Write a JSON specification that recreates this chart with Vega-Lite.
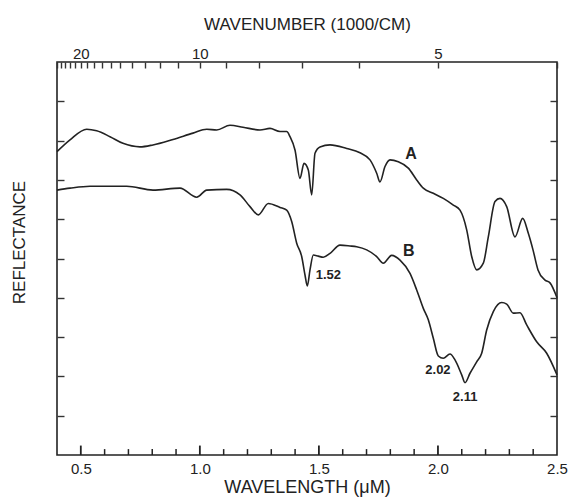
{
  "$schema": "https://vega.github.io/schema/vega-lite/v6.json",
  "width": 500,
  "height": 393,
  "autosize": "none",
  "padding": {"left": 57, "top": 62, "right": 14, "bottom": 48},
  "background": "white",
  "config": {
    "view": {"stroke": "#222", "strokeWidth": 1.6},
    "axis": {
      "labelFont": "Liberation Sans",
      "titleFont": "Liberation Sans",
      "labelColor": "#222",
      "titleColor": "#222",
      "tickColor": "#333",
      "tickWidth": 1.4,
      "domain": false,
      "grid": false,
      "titleFontWeight": "normal",
      "labelFlush": false,
      "labelOverlap": false,
      "labelBound": false
    }
  },
  "resolve": {"axis": {"x": "independent", "y": "independent"}},
  "layer": [
    {
      "data": {"values": [
        {"s":"A","wl":0.4,"r":7.72},{"s":"A","wl":0.4546,"r":8.02},{"s":"A","wl":0.5247,"r":8.29},{"s":"A","wl":0.5667,"r":8.25},{"s":"A","wl":0.6226,"r":8.10},{"s":"A","wl":0.677,"r":7.93},{"s":"A","wl":0.7486,"r":7.84},{"s":"A","wl":0.8032,"r":7.89},{"s":"A","wl":0.8872,"r":8.03},{"s":"A","wl":0.9712,"r":8.19},{"s":"A","wl":1.0287,"r":8.29},{"s":"A","wl":1.0707,"r":8.27},{"s":"A","wl":1.1266,"r":8.39},{"s":"A","wl":1.1812,"r":8.34},{"s":"A","wl":1.2526,"r":8.27},{"s":"A","wl":1.2946,"r":8.31},{"s":"A","wl":1.3366,"r":8.23},{"s":"A","wl":1.3647,"r":8.23},{"s":"A","wl":1.3786,"r":8.10},{"s":"A","wl":1.3996,"r":7.76},{"s":"A","wl":1.4206,"r":7.04},{"s":"A","wl":1.4374,"r":7.42},{"s":"A","wl":1.4555,"r":7.25},{"s":"A","wl":1.4697,"r":6.62},{"s":"A","wl":1.4836,"r":7.68},{"s":"A","wl":1.5046,"r":7.84},{"s":"A","wl":1.5466,"r":7.89},{"s":"A","wl":1.6167,"r":7.80},{"s":"A","wl":1.6726,"r":7.69},{"s":"A","wl":1.7146,"r":7.51},{"s":"A","wl":1.7427,"r":7.17},{"s":"A","wl":1.7566,"r":6.95},{"s":"A","wl":1.7776,"r":7.34},{"s":"A","wl":1.7986,"r":7.51},{"s":"A","wl":1.8335,"r":7.46},{"s":"A","wl":1.8755,"r":7.30},{"s":"A","wl":1.9107,"r":7.00},{"s":"A","wl":1.9385,"r":6.79},{"s":"A","wl":1.9805,"r":6.66},{"s":"A","wl":2.0225,"r":6.53},{"s":"A","wl":2.0645,"r":6.36},{"s":"A","wl":2.0926,"r":6.23},{"s":"A","wl":2.1207,"r":5.73},{"s":"A","wl":2.1417,"r":5.05},{"s":"A","wl":2.1627,"r":4.71},{"s":"A","wl":2.1905,"r":4.88},{"s":"A","wl":2.2115,"r":5.55},{"s":"A","wl":2.2396,"r":6.45},{"s":"A","wl":2.2606,"r":6.53},{"s":"A","wl":2.2887,"r":6.32},{"s":"A","wl":2.3236,"r":5.55},{"s":"A","wl":2.3559,"r":6.02},{"s":"A","wl":2.3795,"r":5.64},{"s":"A","wl":2.3992,"r":5.22},{"s":"A","wl":2.4202,"r":4.71},{"s":"A","wl":2.4496,"r":4.45},{"s":"A","wl":2.4706,"r":4.38},{"s":"A","wl":2.5,"r":4.0},
        {"s":"B","wl":0.4,"r":6.74},{"s":"B","wl":0.4546,"r":6.79},{"s":"B","wl":0.5386,"r":6.84},{"s":"B","wl":0.6927,"r":6.84},{"s":"B","wl":0.8032,"r":6.74},{"s":"B","wl":0.9166,"r":6.79},{"s":"B","wl":0.9867,"r":6.56},{"s":"B","wl":1.0287,"r":6.74},{"s":"B","wl":1.1127,"r":6.76},{"s":"B","wl":1.1686,"r":6.62},{"s":"B","wl":1.2106,"r":6.32},{"s":"B","wl":1.2455,"r":6.11},{"s":"B","wl":1.2875,"r":6.40},{"s":"B","wl":1.3366,"r":6.30},{"s":"B","wl":1.3647,"r":6.23},{"s":"B","wl":1.3857,"r":5.94},{"s":"B","wl":1.4067,"r":5.39},{"s":"B","wl":1.4277,"r":5.05},{"s":"B","wl":1.4416,"r":4.58},{"s":"B","wl":1.4513,"r":4.30},{"s":"B","wl":1.4626,"r":4.71},{"s":"B","wl":1.4765,"r":5.09},{"s":"B","wl":1.4975,"r":5.06},{"s":"B","wl":1.5185,"r":5.03},{"s":"B","wl":1.5466,"r":5.13},{"s":"B","wl":1.5886,"r":5.34},{"s":"B","wl":1.6306,"r":5.32},{"s":"B","wl":1.6587,"r":5.30},{"s":"B","wl":1.7007,"r":5.22},{"s":"B","wl":1.7427,"r":5.05},{"s":"B","wl":1.7705,"r":4.88},{"s":"B","wl":1.8057,"r":5.08},{"s":"B","wl":1.8406,"r":4.96},{"s":"B","wl":1.8826,"r":4.62},{"s":"B","wl":1.9107,"r":4.20},{"s":"B","wl":1.9385,"r":3.73},{"s":"B","wl":1.9595,"r":3.44},{"s":"B","wl":1.9805,"r":2.97},{"s":"B","wl":2.0015,"r":2.52},{"s":"B","wl":2.0225,"r":2.46},{"s":"B","wl":2.0506,"r":2.57},{"s":"B","wl":2.0716,"r":2.42},{"s":"B","wl":2.0997,"r":2.04},{"s":"B","wl":2.1136,"r":1.84},{"s":"B","wl":2.1346,"r":2.08},{"s":"B","wl":2.1627,"r":2.37},{"s":"B","wl":2.1837,"r":2.59},{"s":"B","wl":2.2047,"r":3.18},{"s":"B","wl":2.2325,"r":3.65},{"s":"B","wl":2.2677,"r":3.88},{"s":"B","wl":2.2887,"r":3.84},{"s":"B","wl":2.3165,"r":3.61},{"s":"B","wl":2.3446,"r":3.62},{"s":"B","wl":2.3727,"r":3.31},{"s":"B","wl":2.4147,"r":2.88},{"s":"B","wl":2.4567,"r":2.59},{"s":"B","wl":2.5,"r":2.04}
      ]},
      "mark": {"type": "line", "color": "#222", "strokeWidth": 1.6, "interpolate": "monotone"},
      "encoding": {
        "x": {"field": "wl", "type": "quantitative", "scale": {"domain": [0.4, 2.5], "nice": false, "zero": false},
          "axis": {"orient": "bottom", "values": [0.5, 1, 1.5, 2, 2.5], "format": ".1f", "ticks": false, "labelPadding": 6, "labelFontSize": 15,
            "title": "WAVELENGTH (μM)", "titleFontSize": 18, "titleY": 37, "titleBaseline": "alphabetic"}},
        "y": {"field": "r", "type": "quantitative", "scale": {"domain": [0, 10], "nice": false, "zero": false},
          "axis": {"orient": "left", "values": [1,2,3,4,5,6,7,8,9], "labels": false, "tickSize": -7,
            "title": "REFLECTANCE", "titleFontSize": 17, "titleAngle": -90, "titleX": -38, "titleY": 180, "titleAlign": "center", "titleBaseline": "middle"}},
        "detail": {"field": "s"}
      }
    },
    {
      "data": {"values": [{"wl": 0.5}, {"wl": 1.0}, {"wl": 1.5}, {"wl": 2.0}]},
      "mark": {"type": "rule", "color": "#222", "strokeWidth": 1.8},
      "encoding": {
        "x": {"field": "wl", "type": "quantitative", "axis": null},
        "y": {"datum": 0, "type": "quantitative", "axis": null},
        "y2": {"datum": 0.24}
      }
    },
    {
      "data": {"values": [{"wl": 0.6}, {"wl": 0.7}, {"wl": 0.8}, {"wl": 0.9}, {"wl": 1.1}, {"wl": 1.2}, {"wl": 1.3}, {"wl": 1.4}, {"wl": 1.6}, {"wl": 1.7}, {"wl": 1.8}, {"wl": 1.9}, {"wl": 2.1}, {"wl": 2.2}, {"wl": 2.3}, {"wl": 2.4}]},
      "mark": {"type": "rule", "color": "#222", "strokeWidth": 1.5},
      "encoding": {
        "x": {"field": "wl", "type": "quantitative", "axis": null},
        "y": {"datum": 0, "type": "quantitative", "axis": null},
        "y2": {"datum": 0.15}
      }
    },
    {
      "data": {"values": [
        {"t": "A", "wl": 1.887, "r": 7.66},
        {"t": "B", "wl": 1.878, "r": 5.18}
      ]},
      "mark": {"type": "text", "font": "Liberation Sans", "fontWeight": "bold", "fontSize": 16, "color": "#222", "align": "center", "baseline": "middle"},
      "encoding": {
        "x": {"field": "wl", "type": "quantitative", "axis": null},
        "y": {"field": "r", "type": "quantitative",
          "axis": {"orient": "right", "values": [1,2,3,4,5,6,7,8,9], "labels": false, "tickSize": -7, "title": null}},
        "text": {"field": "t"}
      }
    },
    {
      "data": {"values": [
        {"t": "1.52", "wl": 1.54, "r": 4.58},
        {"t": "2.02", "wl": 2.0, "r": 2.16},
        {"t": "2.11", "wl": 2.114, "r": 1.48}
      ]},
      "mark": {"type": "text", "font": "Liberation Sans", "fontWeight": "bold", "fontSize": 13, "color": "#222", "align": "center", "baseline": "middle"},
      "encoding": {
        "x": {"field": "wl", "type": "quantitative",
          "axis": {"orient": "top", "values": [0.4,0.41667,0.43478,0.45455,0.47619,0.5,0.52632,0.55556,0.58824,0.625,0.66667,0.71429,0.76923,0.83333,0.90909,1.0,1.11111,1.25,1.42857,1.66667,2.0,2.5],
            "labelExpr": "abs(datum.value-0.5)<0.001 ? '20' : abs(datum.value-1)<0.001 ? '10' : abs(datum.value-2)<0.001 ? '5' : ''",
            "tickSize": -6, "labelPadding": 7, "labelFontSize": 15,
            "title": "WAVENUMBER (1000/CM)", "titleFontSize": 17, "titleY": -33, "titleBaseline": "alphabetic"}},
        "y": {"field": "r", "type": "quantitative", "axis": null},
        "text": {"field": "t"}
      }
    }
  ]
}
